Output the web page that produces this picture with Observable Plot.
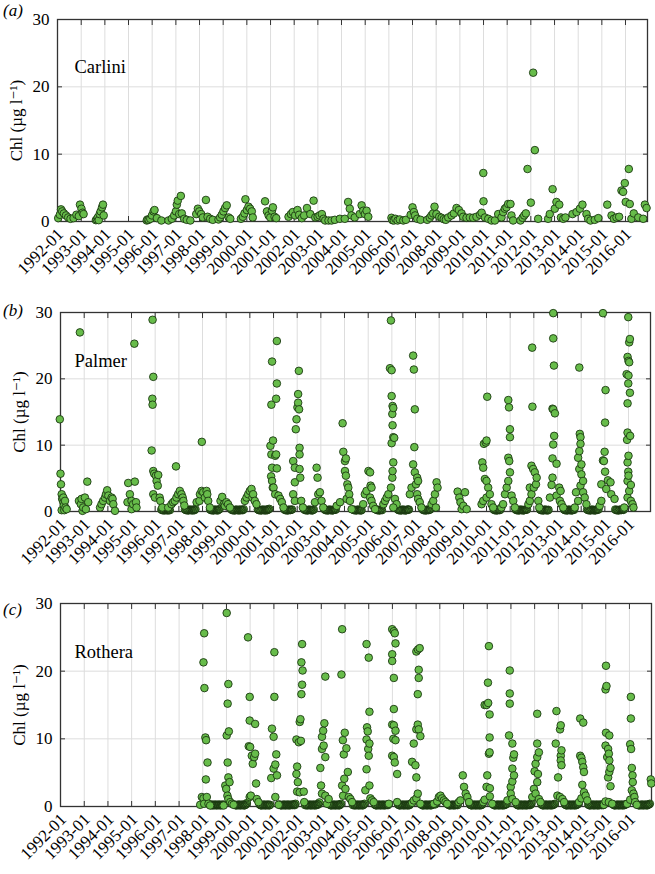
<!DOCTYPE html>
<html>
<head>
<meta charset="utf-8">
<script src="https://cdn.jsdelivr.net/npm/d3@7"></script>
<script src="https://cdn.jsdelivr.net/npm/@observablehq/plot@0.6"></script>
<style>
  html, body { margin: 0; padding: 0; background: #fff; }
  #wrap { position: relative; width: 655px; height: 874px; overflow: hidden; font-family: "Liberation Serif", "DejaVu Serif", serif; }
  #wrap svg text { font-family: "Liberation Serif", "DejaVu Serif", serif !important; }
  .panel { position: absolute; left: 0; max-width: none !important; }
  .letter { position: absolute; left: 3px; font-style: italic; font-size: 17px; line-height: 17px; color: #000; }
</style>
</head>
<body>
<div id="wrap"></div>
<script>
// ---------- tick labels ----------
const yearTicks = d3.range(1992, 2017);           // 1992-01 ... 2016-01
const yTicks = [0, 10, 20, 30];
const yGridValues = [10, 20];
const stations = ["Carlini", "Palmer", "Rothera"];
const panelLetters = ["(a)", "(b)", "(c)"];

// ---------- data: [decimal year, Chl µg/l] ----------
const carlini = [
[1992.03,0.5],[1992.10,1.0],[1992.15,1.8],[1992.20,1.5],[1992.27,1.2],[1992.36,0.9],[1992.45,0.6],[1992.55,0.4],[1992.68,0.5],[1992.80,1.0],[1992.90,0.8],[1992.95,2.5],[1993.01,1.9],[1993.06,1.3],[1993.10,1.1],
[1993.62,0.2],[1993.66,0.3],[1993.70,0.6],[1993.74,0.2],[1993.78,1.1],[1993.82,1.5],[1993.88,2.1],[1993.92,2.5],[1993.95,0.9],
[1995.77,0.15],[1995.80,0.3],[1995.85,0.25],[1995.92,0.4],[1995.99,0.9],[1996.06,1.5],[1996.10,1.7],[1996.20,0.5],[1996.39,0.15],
[1996.69,0.15],[1996.83,0.4],[1996.93,0.9],[1997.00,1.5],[1997.04,2.5],[1997.08,3.1],[1997.14,1.1],[1997.21,3.8],[1997.25,1.2],[1997.35,0.4],[1997.46,0.25],[1997.61,0.15],
[1997.86,1.1],[1997.93,1.9],[1997.99,1.5],[1998.07,1.1],[1998.14,0.6],[1998.27,3.2],[1998.34,0.7],[1998.45,0.4],[1998.56,0.25],
[1998.80,0.3],[1998.87,0.6],[1998.94,1.0],[1999.01,1.5],[1999.08,2.0],[1999.15,2.4],[1999.23,0.6],[1999.30,0.4],
[1999.75,0.4],[1999.83,0.7],[1999.90,1.2],[1999.94,3.3],[2000.00,1.7],[2000.07,2.2],[2000.14,1.9],[2000.21,1.5],[2000.25,0.6],
[2000.77,3.0],[2000.85,1.5],[2000.92,0.9],[2000.99,0.6],[2001.06,1.6],[2001.10,2.1],[2001.17,0.7],[2001.24,0.5],
[2001.76,0.7],[2001.86,1.1],[2001.94,1.4],[2002.04,0.9],[2002.14,1.7],[2002.21,1.0],[2002.32,0.5],
[2002.42,0.9],[2002.54,2.0],[2002.68,1.1],[2002.82,3.1],[2002.89,0.6],[2002.99,0.7],[2003.07,0.9],[2003.17,1.1],[2003.24,0.4],[2003.31,0.15],[2003.45,0.15],
[2003.58,0.15],[2003.72,0.25],[2003.93,0.4],[2004.14,0.4],[2004.28,2.9],[2004.35,1.9],[2004.42,0.9],[2004.56,0.6],[2004.77,1.1],[2004.85,2.4],[2004.92,1.6],[2004.99,1.1],[2005.06,1.6],[2005.13,0.7],
[2006.11,0.55],[2006.15,0.2],[2006.21,0.15],[2006.28,0.4],[2006.37,0.15],[2006.46,0.3],[2006.61,0.15],[2006.72,0.25],
[2006.92,1.0],[2007.00,2.1],[2007.06,1.4],[2007.11,0.9],[2007.20,0.4],[2007.34,0.25],
[2007.62,0.25],[2007.73,0.55],[2007.80,0.9],[2007.87,1.2],[2007.93,2.2],[2008.01,1.1],[2008.13,0.7],[2008.23,0.55],[2008.32,0.35],[2008.41,0.25],
[2008.51,0.6],[2008.65,0.9],[2008.75,1.2],[2008.86,2.0],[2008.96,1.7],[2009.07,1.2],[2009.14,0.7],[2009.28,0.55],[2009.42,0.6],
[2009.56,0.55],[2009.70,0.7],[2009.85,1.0],[2009.92,1.3],[2009.99,7.2],[2010.00,3.0],[2010.06,0.6],[2010.20,0.4],[2010.34,0.15],[2010.48,0.15],
[2010.62,1.1],[2010.76,0.6],[2010.83,1.4],[2010.90,1.9],[2010.97,2.1],[2011.04,2.6],[2011.14,2.6],[2011.18,0.9],[2011.25,0.15],
[2011.56,0.15],[2011.65,0.55],[2011.72,0.9],[2011.79,1.2],[2011.86,7.8],[2012.00,2.8],[2012.10,22.1],[2012.17,10.6],[2012.31,0.4],
[2012.73,0.4],[2012.80,1.1],[2012.92,4.8],[2013.01,1.9],[2013.08,2.9],[2013.20,2.5],[2013.27,0.6],[2013.37,0.4],[2013.46,0.6],
[2013.76,1.1],[2013.93,1.4],[2014.07,1.9],[2014.18,2.5],[2014.35,1.1],[2014.42,0.4],[2014.52,0.15],[2014.70,0.25],[2014.85,0.5],
[2015.23,2.5],[2015.41,0.9],[2015.51,0.4],[2015.62,0.6],[2015.73,0.7],
[2015.83,4.6],[2015.90,4.4],[2015.97,5.7],[2016.01,2.9],[2016.14,7.8],[2016.18,2.6],[2016.25,0.4],[2016.35,1.2],[2016.54,0.6],[2016.75,0.4],[2016.82,2.5],[2016.89,2.0]
];

const palmer = [
[1991.97,13.9],[1992.00,5.7],[1992.02,4.1],[1992.05,2.6],[1992.05,0.2],[1992.07,1.9],[1992.12,1.4],[1992.12,2.1],[1992.14,0.9],[1992.16,0.2],[1992.19,1.6],[1992.21,0.6],[1992.26,0.35],
[1992.78,1.6],[1992.82,27.0],[1992.86,1.1],[1992.89,1.9],[1992.93,0.1],[1992.96,0.6],[1993.03,2.1],[1993.07,0.35],[1993.13,4.5],[1993.17,1.4],
[1993.67,0.6],[1993.73,1.1],[1993.80,1.6],[1993.88,2.1],[1993.92,2.6],[1993.97,3.2],[1994.02,2.4],[1994.09,1.6],[1994.16,2.1],[1994.20,1.9],[1994.23,1.1],[1994.30,0.1],
[1994.83,1.4],[1994.86,4.3],[1994.93,2.6],[1995.00,1.6],[1995.00,0.35],[1995.07,1.1],[1995.12,25.3],[1995.14,4.5],[1995.19,1.4],[1995.21,0.6],
[1995.85,9.2],[1995.88,17.0],[1995.89,28.9],[1995.89,16.1],[1995.92,20.3],[1995.92,6.1],[1995.92,2.6],[1995.96,5.7],[1995.99,2.1],[1996.03,5.4],[1996.06,4.6],[1996.11,3.9],[1996.13,5.5],[1996.19,2.1],[1996.22,1.6],[1996.30,0.6],
[1996.55,0.6],[1996.69,1.1],[1996.76,1.4],[1996.83,1.6],[1996.88,6.8],[1996.90,2.1],[1996.97,2.6],[1997.04,3.1],[1997.11,2.6],[1997.16,2.1],[1997.19,1.6],[1997.23,0.9],
[1997.75,1.4],[1997.87,1.6],[1997.89,2.6],[1997.96,3.1],[1997.97,10.5],[1998.03,2.9],[1998.10,2.1],[1998.17,3.1],[1998.20,2.6],[1998.24,1.6],[1998.31,0.6],
[1998.76,1.6],[1998.83,2.2],[1998.90,1.1],[1998.94,0.85],[1999.01,1.4],[1999.08,1.1],[1999.16,0.6],
[1999.79,1.6],[1999.86,2.1],[1999.93,2.6],[2000.00,3.1],[2000.07,3.4],[2000.11,2.1],[2000.14,2.6],[2000.21,1.6],[2000.28,1.1],
[2000.87,9.9],[2000.90,5.3],[2000.91,8.6],[2000.91,16.1],[2000.94,22.6],[2000.94,6.6],[2000.94,4.6],[2000.97,3.6],[2000.98,10.7],[2001.00,3.6],[2001.07,8.4],[2001.07,2.6],[2001.11,17.0],[2001.11,8.6],[2001.14,25.7],[2001.14,19.3],[2001.14,6.5],[2001.21,2.4],[2001.28,1.9],[2001.35,1.4],[2001.42,0.6],
[2001.83,7.6],[2001.83,2.6],[2001.90,6.6],[2001.90,4.4],[2001.90,1.6],[2001.94,12.4],[2001.97,13.9],[2002.01,15.7],[2002.04,17.7],[2002.04,16.4],[2002.07,21.2],[2002.08,15.4],[2002.10,9.6],[2002.10,8.6],[2002.10,6.4],[2002.13,5.1],[2002.17,1.6],[2002.24,0.6],
[2002.75,1.4],[2002.82,6.6],[2002.86,5.1],[2002.89,2.6],[2002.96,2.9],[2003.03,1.6],[2003.10,0.6],
[2003.67,0.85],[2003.81,1.4],[2003.92,13.3],[2003.95,9.0],[2004.02,7.6],[2004.02,6.1],[2004.06,8.0],[2004.06,5.4],[2004.09,1.9],[2004.12,4.1],[2004.16,3.6],[2004.20,2.6],[2004.23,1.6],[2004.30,0.35],
[2004.79,1.1],[2004.86,2.6],[2004.93,3.1],[2005.01,6.1],[2005.08,5.9],[2005.10,3.9],[2005.14,3.6],[2005.08,2.1],[2005.14,1.6],[2005.21,0.85],[2005.29,0.35],
[2005.64,1.1],[2005.71,1.6],[2005.78,2.1],[2005.85,2.6],[2005.92,21.6],[2005.96,28.8],[2005.96,3.6],[2005.99,21.3],[2005.99,17.4],[2005.99,10.3],[2006.02,14.7],[2006.02,5.1],[2006.03,15.9],[2006.03,13.0],[2006.03,6.1],[2006.06,15.6],[2006.06,11.2],[2006.06,7.4],[2006.10,11.1],[2006.13,1.9],[2006.20,1.1],[2006.06,0.6],
[2006.76,2.6],[2006.83,3.6],[2006.90,23.5],[2006.90,7.1],[2006.93,21.4],[2006.95,9.7],[2006.97,15.4],[2006.97,5.9],[2007.02,4.1],[2007.07,5.1],[2007.07,2.6],[2007.11,4.6],[2007.11,1.9],[2007.18,1.4],[2007.25,0.6],
[2007.68,1.1],[2007.75,1.6],[2007.82,2.6],[2007.86,0.6],[2007.89,4.4],[2007.93,3.6],
[2008.78,3.0],[2008.85,2.1],[2008.90,1.4],[2008.95,0.35],[2009.02,0.85],[2009.09,2.9],[2009.16,0.35],
[2009.79,1.1],[2009.82,7.4],[2009.86,6.6],[2009.86,1.6],[2009.89,10.2],[2009.93,4.9],[2009.97,10.4],[2010.00,10.7],[2010.00,4.6],[2010.00,2.1],[2010.03,17.3],[2010.07,3.6],[2010.14,2.6],[2010.21,1.1],[2010.28,0.6],
[2010.63,0.6],[2010.70,1.1],[2010.78,2.6],[2010.85,3.6],[2010.92,4.6],[2010.92,8.1],[2010.92,16.8],[2010.95,15.7],[2010.96,7.6],[2010.99,12.4],[2010.99,11.2],[2010.99,5.9],[2011.06,2.4],[2011.13,1.6],[2011.20,0.6],
[2011.77,1.1],[2011.83,1.6],[2011.83,3.6],[2011.90,2.6],[2011.90,6.9],[2011.93,24.7],[2011.94,15.8],[2011.97,6.4],[2012.00,3.6],[2012.04,5.9],[2012.09,4.1],[2012.12,5.1],[2012.19,1.6],[2012.23,0.6],
[2012.68,2.1],[2012.75,4.0],[2012.79,5.1],[2012.79,8.0],[2012.79,15.5],[2012.82,29.9],[2012.82,26.1],[2012.82,15.4],[2012.82,10.1],[2012.85,22.0],[2012.86,11.4],[2012.89,14.8],[2012.96,7.2],[2012.96,2.4],[2013.07,3.6],[2013.10,1.6],[2013.13,3.1],[2013.17,1.1],[2013.24,0.6],
[2013.73,0.6],[2013.78,2.9],[2013.87,8.1],[2013.87,1.6],[2013.92,21.7],[2013.92,9.1],[2013.92,6.4],[2013.94,11.7],[2013.97,11.2],[2013.97,10.2],[2013.97,3.9],[2014.01,7.1],[2014.01,5.6],[2014.08,4.6],[2014.08,2.9],[2014.15,2.1],[2014.22,1.1],
[2014.78,0.85],[2014.85,4.1],[2014.85,1.6],[2014.92,29.9],[2014.92,7.7],[2014.96,7.6],[2014.99,9.0],[2015.01,13.4],[2015.01,6.0],[2015.03,18.3],[2015.06,3.4],[2015.13,4.7],[2015.24,4.4],[2015.27,2.6],[2015.41,1.9],
[2015.82,0.6],[2015.92,20.7],[2015.94,10.8],[2015.96,23.3],[2015.96,16.3],[2015.96,11.9],[2015.96,7.4],[2015.96,4.6],[2015.96,2.1],[2015.99,29.3],[2015.99,19.3],[2015.99,6.0],[2016.00,22.7],[2016.00,20.5],[2016.00,8.4],[2016.00,5.4],[2016.03,25.5],[2016.03,22.5],[2016.03,3.1],[2016.06,26.0],[2016.06,17.9],[2016.07,11.4],[2016.10,4.0],[2016.10,1.6],[2016.17,1.1],[2016.21,0.6]
];

// Palmer near-zero winter samples (dark clusters along the baseline)
const palmerWinter = [
[1996.26,0.3],[1996.30,0.2],[1996.34,0.25],[1996.38,0.15],[1996.42,0.3],[1996.46,0.2],[1996.50,0.25],[1996.54,0.15],[1996.58,0.3],[1996.62,0.2],
[1997.26,0.3],[1997.30,0.2],[1997.34,0.25],[1997.38,0.15],[1997.42,0.2],[1997.46,0.3],[1997.50,0.2],[1997.54,0.25],[1997.58,0.15],[1997.62,0.3],[1997.66,0.2],[1997.70,0.35],
[1998.32,0.3],[1998.36,0.2],[1998.40,0.25],[1998.44,0.15],[1998.48,0.2],[1998.52,0.3],[1998.56,0.2],[1998.60,0.25],[1998.64,0.15],[1998.68,0.3],[1998.72,0.35],
[1999.22,0.3],[1999.26,0.2],[1999.30,0.25],[1999.34,0.15],[1999.38,0.2],[1999.42,0.3],[1999.46,0.2],[1999.50,0.25],[1999.54,0.15],[1999.58,0.3],[1999.62,0.2],[1999.66,0.25],[1999.70,0.2],[1999.74,0.35],
[2000.34,0.3],[2000.38,0.2],[2000.42,0.25],[2000.46,0.15],[2000.50,0.2],[2000.54,0.3],[2000.58,0.2],[2000.62,0.25],[2000.66,0.15],[2000.70,0.3],[2000.74,0.2],[2000.78,0.3],[2000.82,0.4],
[2001.46,0.3],[2001.50,0.2],[2001.54,0.25],[2001.58,0.15],[2001.62,0.2],[2001.66,0.3],[2001.70,0.2],[2001.74,0.25],[2001.78,0.3],
[2002.30,0.3],[2002.34,0.2],[2002.38,0.25],[2002.42,0.15],[2002.46,0.2],[2002.50,0.3],[2002.54,0.2],[2002.58,0.25],[2002.62,0.15],[2002.66,0.2],[2002.70,0.3],
[2003.16,0.3],[2003.20,0.2],[2003.24,0.25],[2003.28,0.15],[2003.32,0.2],[2003.36,0.3],[2003.40,0.2],[2003.44,0.25],[2003.48,0.15],[2003.52,0.2],[2003.56,0.3],[2003.60,0.25],[2003.63,0.3],
[2004.36,0.3],[2004.40,0.2],[2004.44,0.25],[2004.48,0.15],[2004.52,0.2],[2004.56,0.3],[2004.60,0.2],[2004.64,0.25],[2004.68,0.15],[2004.72,0.2],
[2005.34,0.3],[2005.38,0.2],[2005.42,0.25],[2005.46,0.15],[2005.50,0.2],[2005.54,0.3],[2005.58,0.2],
[2006.25,0.3],[2006.29,0.2],[2006.33,0.25],[2006.37,0.15],[2006.41,0.2],[2006.45,0.3],[2006.49,0.2],[2006.53,0.25],[2006.57,0.15],[2006.61,0.2],[2006.65,0.3],[2006.69,0.25],[2006.72,0.3],
[2007.30,0.3],[2007.34,0.2],[2007.38,0.25],[2007.42,0.15],[2007.46,0.2],[2007.50,0.3],[2007.54,0.2],[2007.58,0.25],[2007.62,0.3],
[2010.30,0.3],[2010.34,0.2],[2010.38,0.25],[2010.42,0.15],[2010.46,0.2],[2010.50,0.3],[2010.54,0.2],[2010.58,0.25],
[2011.23,0.3],[2011.27,0.2],[2011.31,0.25],[2011.35,0.15],[2011.39,0.2],[2011.43,0.3],[2011.47,0.2],[2011.51,0.25],[2011.55,0.15],[2011.59,0.2],[2011.63,0.3],[2011.67,0.25],[2011.71,0.3],
[2012.26,0.3],[2012.30,0.2],[2012.34,0.25],[2012.38,0.15],[2012.42,0.2],[2012.46,0.3],[2012.50,0.2],[2012.54,0.25],[2012.58,0.15],[2012.62,0.25],
[2013.27,0.3],[2013.31,0.2],[2013.35,0.25],[2013.39,0.15],[2013.43,0.2],[2013.47,0.3],[2013.51,0.2],[2013.55,0.25],[2013.59,0.15],[2013.63,0.2],[2013.67,0.3],[2013.70,0.25],
[2014.25,0.3],[2014.29,0.2],[2014.33,0.25],[2014.37,0.15],[2014.41,0.2],[2014.45,0.3],[2014.49,0.2],[2014.53,0.25],[2014.57,0.15],[2014.61,0.2],[2014.65,0.3],[2014.69,0.25],[2014.73,0.3],
[2015.44,0.3],[2015.48,0.2],[2015.52,0.25],[2015.56,0.15],[2015.60,0.2],[2015.64,0.3],[2015.68,0.2],[2015.72,0.25],[2015.76,0.3],[2015.79,0.25]
];

const rothera = [
[1997.89,0.25],[1997.96,1.4],[1998.03,21.3],[1998.03,1.2],[1998.06,25.6],[1998.07,17.5],[1998.06,0.4],[1998.11,10.2],[1998.13,4.0],[1998.14,9.8],[1998.17,1.4],[1998.20,6.5],[1998.24,0.4],[1998.31,0.15],
[1998.88,0.15],[1998.95,3.1],[1998.99,2.6],[1999.01,28.6],[1999.01,10.5],[1999.04,1.6],[1999.05,15.2],[1999.05,6.5],[1999.08,18.1],[1999.08,4.3],[1999.08,1.1],[1999.10,11.1],[1999.13,3.6],[1999.16,0.65],[1999.23,0.4],[1999.30,0.25],
[1999.91,25.0],[1999.94,8.9],[1999.98,16.2],[1999.98,12.7],[1999.98,1.4],[2000.00,8.8],[2000.03,1.6],[2000.07,7.5],[2000.11,6.3],[2000.17,7.3],[2000.21,12.2],[2000.21,7.8],[2000.25,3.4],[2000.28,1.1],[2000.35,0.65],
[2000.89,4.2],[2000.92,11.5],[2000.99,10.3],[2000.99,5.6],[2001.02,22.8],[2001.02,16.2],[2001.06,6.2],[2001.06,1.4],[2001.10,7.7],[2001.13,4.6],[2001.20,0.25],
[2001.95,9.9],[2001.95,4.8],[2001.98,5.9],[2001.98,2.2],[2002.01,3.6],[2002.05,9.5],[2002.09,12.5],[2002.09,2.1],[2002.12,12.9],[2002.14,9.7],[2002.16,21.3],[2002.16,16.6],[2002.19,24.0],[2002.19,18.0],[2002.21,20.1],[2002.26,2.2],[2002.28,0.65],
[2002.96,5.7],[2002.99,3.1],[2003.03,10.3],[2003.03,8.5],[2003.03,1.9],[2003.08,11.2],[2003.10,9.0],[2003.13,12.3],[2003.17,19.2],[2003.17,7.3],[2003.17,1.6],[2003.24,0.4],[2003.31,1.1],
[2003.85,19.5],[2003.88,26.2],[2003.88,3.1],[2003.91,9.8],[2003.92,1.6],[2003.95,7.7],[2003.97,4.1],[2003.99,10.9],[2004.02,2.6],[2004.06,8.6],[2004.12,5.1],[2004.16,1.4],[2004.23,1.1],[2004.30,0.65],
[2004.86,2.4],[2004.91,24.0],[2004.91,9.9],[2004.91,5.5],[2004.93,11.7],[2004.96,11.1],[2004.98,8.5],[2005.00,22.0],[2005.00,7.5],[2005.03,14.0],[2005.03,9.3],[2005.03,3.1],[2005.07,1.2],[2005.14,0.9],[2005.21,0.65],
[2005.85,0.4],[2005.99,22.5],[2005.99,26.2],[2005.99,21.5],[2005.99,12.1],[2005.99,7.5],[2006.04,10.0],[2006.06,25.9],[2006.06,19.0],[2006.06,14.4],[2006.06,12.0],[2006.06,7.3],[2006.10,25.6],[2006.10,6.5],[2006.13,24.1],[2006.13,11.2],[2006.13,9.8],[2006.20,4.8],[2006.20,0.65],
[2006.83,6.6],[2006.83,0.55],[2006.90,9.3],[2006.90,0.9],[2006.97,6.1],[2007.01,22.9],[2007.01,11.4],[2007.01,4.3],[2007.01,1.2],[2007.07,16.6],[2007.07,12.1],[2007.07,1.9],[2007.08,23.2],[2007.11,20.2],[2007.11,19.0],[2007.11,11.4],[2007.15,23.4],[2007.18,10.4],[2007.18,0.4],
[2007.75,0.4],[2007.89,0.75],[2007.96,1.4],[2008.03,1.6],[2008.10,1.2],[2008.17,0.9],[2008.24,0.65],[2008.31,0.4],
[2008.80,0.65],[2008.87,0.9],[2008.97,4.6],[2009.02,2.9],[2009.09,1.9],[2009.16,1.4],[2009.23,0.65],
[2009.83,0.65],[2009.89,15.0],[2009.89,1.0],[2009.97,15.0],[2009.97,2.9],[2010.00,4.6],[2010.03,18.3],[2010.04,15.3],[2010.07,23.7],[2010.07,7.8],[2010.10,13.6],[2010.10,10.2],[2010.10,8.0],[2010.11,2.7],[2010.11,1.5],[2010.21,0.4],
[2010.85,0.9],[2010.92,10.5],[2010.95,20.1],[2010.95,16.7],[2010.95,15.2],[2010.99,2.9],[2010.99,1.9],[2011.06,9.3],[2011.06,5.6],[2011.06,3.7],[2011.06,1.1],[2011.10,7.2],[2011.13,7.7],[2011.13,4.6],[2011.20,0.65],
[2011.90,1.4],[2011.97,2.6],[2012.00,5.2],[2012.04,6.3],[2012.04,1.9],[2012.11,13.7],[2012.11,9.3],[2012.11,7.3],[2012.11,3.6],[2012.14,4.8],[2012.18,8.0],[2012.18,1.1],[2012.25,0.65],
[2012.89,9.3],[2012.92,14.1],[2012.96,1.6],[2012.99,4.3],[2013.07,11.4],[2013.07,1.4],[2013.10,12.0],[2013.10,7.5],[2013.10,6.8],[2013.13,8.3],[2013.13,6.1],[2013.17,1.1],[2013.24,0.65],
[2013.87,0.65],[2013.92,13.0],[2013.92,7.5],[2013.97,7.2],[2013.97,1.2],[2014.01,6.6],[2014.01,3.2],[2014.05,12.4],[2014.05,5.8],[2014.08,5.1],[2014.08,2.1],[2014.15,1.6],[2014.22,0.9],
[2014.92,0.25],[2014.99,17.3],[2014.99,9.0],[2014.99,0.75],[2015.01,20.8],[2015.01,10.9],[2015.03,17.8],[2015.06,7.3],[2015.10,8.5],[2015.10,4.3],[2015.13,7.8],[2015.13,0.65],[2015.15,10.5],[2015.15,6.8],[2015.15,5.1],[2015.20,5.7],[2015.20,3.0],[2015.27,0.4],
[2015.90,0.4],[2016.03,9.2],[2016.03,1.0],[2016.06,16.2],[2016.06,13.0],[2016.07,8.5],[2016.10,5.7],[2016.10,2.4],[2016.13,4.6],[2016.14,3.6],[2016.17,1.9],[2016.21,1.4],[2016.24,0.65],[2016.31,0.25],[2016.90,4.0],[2016.92,3.4]
];

// Rothera near-zero winter samples (continuous dark band along the baseline)
const rotheraWinter = [
[1998.34,0.2],[1998.38,0.3],[1998.42,0.15],[1998.46,0.25],[1998.50,0.2],[1998.54,0.3],[1998.58,0.15],[1998.62,0.25],[1998.66,0.2],[1998.70,0.3],[1998.74,0.15],[1998.78,0.25],[1998.82,0.2],[1998.86,0.3],
[1999.34,0.3],[1999.38,0.2],[1999.42,0.15],[1999.46,0.25],[1999.50,0.2],[1999.54,0.3],[1999.58,0.15],[1999.62,0.25],[1999.66,0.2],[1999.70,0.3],[1999.74,0.15],[1999.78,0.2],[1999.82,0.3],[1999.86,0.5],
[2000.40,0.3],[2000.44,0.2],[2000.48,0.15],[2000.52,0.25],[2000.56,0.2],[2000.60,0.3],[2000.64,0.15],[2000.68,0.25],[2000.72,0.2],[2000.76,0.3],[2000.80,0.15],[2000.84,0.25],
[2001.24,0.3],[2001.28,0.2],[2001.32,0.15],[2001.36,0.25],[2001.40,0.2],[2001.44,0.3],[2001.48,0.15],[2001.52,0.25],[2001.56,0.2],[2001.60,0.3],[2001.64,0.15],[2001.68,0.25],[2001.72,0.2],[2001.76,0.3],[2001.80,0.2],[2001.84,0.3],[2001.88,0.2],[2001.91,0.4],
[2002.32,0.2],[2002.36,0.3],[2002.40,0.15],[2002.44,0.25],[2002.48,0.2],[2002.52,0.3],[2002.56,0.15],[2002.60,0.25],[2002.64,0.2],[2002.68,0.3],[2002.72,0.15],[2002.76,0.25],[2002.80,0.2],[2002.84,0.35],[2002.88,0.3],[2002.92,0.6],
[2003.35,0.3],[2003.39,0.2],[2003.43,0.15],[2003.47,0.25],[2003.51,0.2],[2003.55,0.3],[2003.59,0.15],[2003.63,0.25],[2003.67,0.2],[2003.71,0.3],[2003.75,0.15],[2003.79,0.25],[2003.83,0.4],
[2004.34,0.2],[2004.38,0.3],[2004.42,0.15],[2004.46,0.25],[2004.50,0.2],[2004.54,0.3],[2004.58,0.15],[2004.62,0.25],[2004.66,0.2],[2004.70,0.3],[2004.74,0.15],[2004.78,0.25],[2004.82,0.4],
[2005.25,0.3],[2005.29,0.2],[2005.33,0.15],[2005.37,0.25],[2005.41,0.2],[2005.45,0.3],[2005.49,0.15],[2005.53,0.25],[2005.57,0.2],[2005.61,0.3],[2005.65,0.15],[2005.69,0.25],[2005.73,0.2],[2005.77,0.3],[2005.81,0.2],
[2006.24,0.3],[2006.28,0.2],[2006.32,0.15],[2006.36,0.25],[2006.40,0.2],[2006.44,0.3],[2006.48,0.15],[2006.52,0.25],[2006.56,0.2],[2006.60,0.3],[2006.64,0.15],[2006.68,0.25],[2006.72,0.2],[2006.76,0.4],
[2007.22,0.3],[2007.26,0.2],[2007.30,0.15],[2007.34,0.25],[2007.38,0.2],[2007.42,0.3],[2007.46,0.15],[2007.50,0.25],[2007.54,0.2],[2007.58,0.3],[2007.62,0.15],[2007.66,0.25],[2007.70,0.3],[2007.80,0.3],[2007.84,0.5],
[2008.35,0.3],[2008.39,0.2],[2008.43,0.15],[2008.47,0.25],[2008.51,0.2],[2008.55,0.3],[2008.59,0.15],[2008.63,0.25],[2008.67,0.2],[2008.71,0.3],[2008.75,0.2],
[2009.27,0.3],[2009.31,0.2],[2009.35,0.15],[2009.39,0.25],[2009.43,0.2],[2009.47,0.3],[2009.51,0.15],[2009.55,0.25],[2009.59,0.2],[2009.63,0.3],[2009.67,0.15],[2009.71,0.25],[2009.75,0.2],[2009.79,0.3],
[2010.25,0.3],[2010.29,0.2],[2010.33,0.15],[2010.37,0.25],[2010.41,0.2],[2010.45,0.3],[2010.49,0.15],[2010.53,0.25],[2010.57,0.2],[2010.61,0.3],[2010.65,0.15],[2010.69,0.25],[2010.73,0.2],[2010.77,0.3],[2010.81,0.35],
[2011.24,0.3],[2011.28,0.2],[2011.32,0.15],[2011.36,0.25],[2011.40,0.2],[2011.44,0.3],[2011.48,0.15],[2011.52,0.25],[2011.56,0.2],[2011.60,0.3],[2011.64,0.15],[2011.68,0.25],[2011.72,0.2],[2011.76,0.3],[2011.80,0.2],[2011.84,0.3],[2011.87,0.5],
[2012.29,0.3],[2012.33,0.2],[2012.37,0.15],[2012.41,0.25],[2012.45,0.2],[2012.49,0.3],[2012.53,0.15],[2012.57,0.25],[2012.61,0.2],[2012.65,0.3],[2012.69,0.15],[2012.73,0.25],[2012.77,0.2],[2012.81,0.3],[2012.85,0.4],
[2013.28,0.3],[2013.32,0.2],[2013.36,0.15],[2013.40,0.25],[2013.44,0.2],[2013.48,0.3],[2013.52,0.15],[2013.56,0.25],[2013.60,0.2],[2013.64,0.3],[2013.68,0.15],[2013.72,0.25],[2013.76,0.2],[2013.80,0.3],[2013.84,0.4],
[2014.26,0.3],[2014.30,0.2],[2014.34,0.15],[2014.38,0.25],[2014.42,0.2],[2014.46,0.3],[2014.50,0.15],[2014.54,0.25],[2014.58,0.2],[2014.62,0.3],[2014.66,0.15],[2014.70,0.25],[2014.74,0.2],[2014.78,0.3],[2014.82,0.2],[2014.86,0.3],[2014.89,0.2],
[2015.31,0.3],[2015.35,0.2],[2015.39,0.15],[2015.43,0.25],[2015.47,0.2],[2015.51,0.3],[2015.55,0.15],[2015.59,0.25],[2015.63,0.2],[2015.67,0.3],[2015.71,0.15],[2015.75,0.25],[2015.79,0.2],[2015.83,0.3],[2015.87,0.35],
[2016.34,0.3],[2016.38,0.2],[2016.42,0.15],[2016.46,0.25],[2016.50,0.2],[2016.54,0.3],[2016.58,0.15],[2016.62,0.25],[2016.66,0.2],[2016.70,0.3],[2016.74,0.15],[2016.78,0.25],[2016.82,0.3],[2016.86,0.4]
];

// ---------- helpers ----------
const toDate = y => {
  const yr = Math.floor(y);
  return new Date(Date.UTC(yr, 0, 1) + (y - yr) * 365.25 * 864e5);
};
const toRows = arr => arr.map(([y, v]) => ({date: toDate(y), chl: v}));
const xTicks = yearTicks.map(y => new Date(Date.UTC(y, 0, 1)));
const xDomain = [new Date(Date.UTC(1992, 0, 1)), toDate(2016.93)];
const fmt = d3.utcFormat("%Y-%m");

const serif = "Liberation Serif, DejaVu Serif, serif";
const dotFill = "#67bc4a", dotStroke = "#1c3a12";

function panel({rows, lows, name, letter, top, height, mt, mb, ml, mr, nameDx, nameDy, letterTop}) {
  const svg = Plot.plot({
    width: 655, height,
    marginTop: mt, marginBottom: mb, marginLeft: ml, marginRight: mr,
    style: {fontFamily: serif, fontSize: "17px", color: "#000", background: "transparent", overflow: "visible"},
    x: {type: "utc", domain: xDomain},
    y: {domain: [0, 30]},
    marks: [
      Plot.gridX(xTicks, {stroke: "#dddddd", strokeOpacity: 1, strokeWidth: 1}),
      Plot.gridY(yGridValues, {stroke: "#dddddd", strokeOpacity: 1, strokeWidth: 1}),
      Plot.frame({stroke: "#333", strokeWidth: 1.3}),
      Plot.axisX(xTicks, {anchor: "top", tickSize: 5, dy: 5, tickFormat: () => "", label: null, stroke: "#333"}),
      Plot.axisX(xTicks, {anchor: "bottom", tickSize: 5, dy: -5, tickFormat: () => "", label: null, stroke: "#333"}),
      Plot.axisX(xTicks, {anchor: "bottom", tickSize: 0, tickRotate: -45, tickPadding: 10, dx: 3, tickFormat: fmt, label: null, fontSize: 17}),
      Plot.axisY(yTicks, {anchor: "right", tickSize: 5, dx: -5, tickFormat: () => "", label: null, stroke: "#333"}),
      Plot.axisY(yTicks, {anchor: "left", tickSize: 5, dx: 5, tickFormat: () => "", label: null, stroke: "#333"}),
      Plot.axisY(yTicks, {anchor: "left", tickSize: 0, tickPadding: 8, label: "Chl (µg l⁻¹)", labelAnchor: "center", labelArrow: "none", labelOffset: 48, fontSize: 17}),
      // near-zero samples: fills first, then outlines on top (dense dark band)
      Plot.dot(lows, {x: "date", y: "chl", r: 3.8, fill: dotFill, stroke: null}),
      Plot.dot(lows, {x: "date", y: "chl", r: 3.8, fill: "none", stroke: dotStroke, strokeWidth: 0.9}),
      Plot.dot(rows, {x: "date", y: "chl", r: 3.8, fill: dotFill, stroke: dotStroke, strokeWidth: 0.9}),
      Plot.text([name], {frameAnchor: "top-left", dx: nameDx, dy: nameDy, textAnchor: "start", lineAnchor: "bottom", fontSize: 18.5, fill: "#000"})
    ]
  });
  svg.classList.add("panel");
  svg.style.top = top + "px";
  const wrap = document.getElementById("wrap");
  wrap.appendChild(svg);
  const l = document.createElement("div");
  l.className = "letter";
  l.style.top = letterTop + "px";
  l.textContent = letter;
  wrap.appendChild(l);
}

panel({rows: toRows(carlini), lows: [], name: stations[0], letter: panelLetters[0], top: 0, height: 291, mt: 19, mb: 70, ml: 57, mr: 8, nameDx: 17, nameDy: 53, letterTop: 2});
panel({rows: toRows(palmer), lows: toRows(palmerWinter), name: stations[1], letter: panelLetters[1], top: 291, height: 290, mt: 21, mb: 70, ml: 60, mr: 5, nameDx: 14, nameDy: 54, letterTop: 302});
panel({rows: toRows(rothera), lows: toRows(rotheraWinter), name: stations[2], letter: panelLetters[2], top: 582, height: 292, mt: 21, mb: 68, ml: 60, mr: 4, nameDx: 14, nameDy: 54, letterTop: 601});
</script>
</body>
</html>
